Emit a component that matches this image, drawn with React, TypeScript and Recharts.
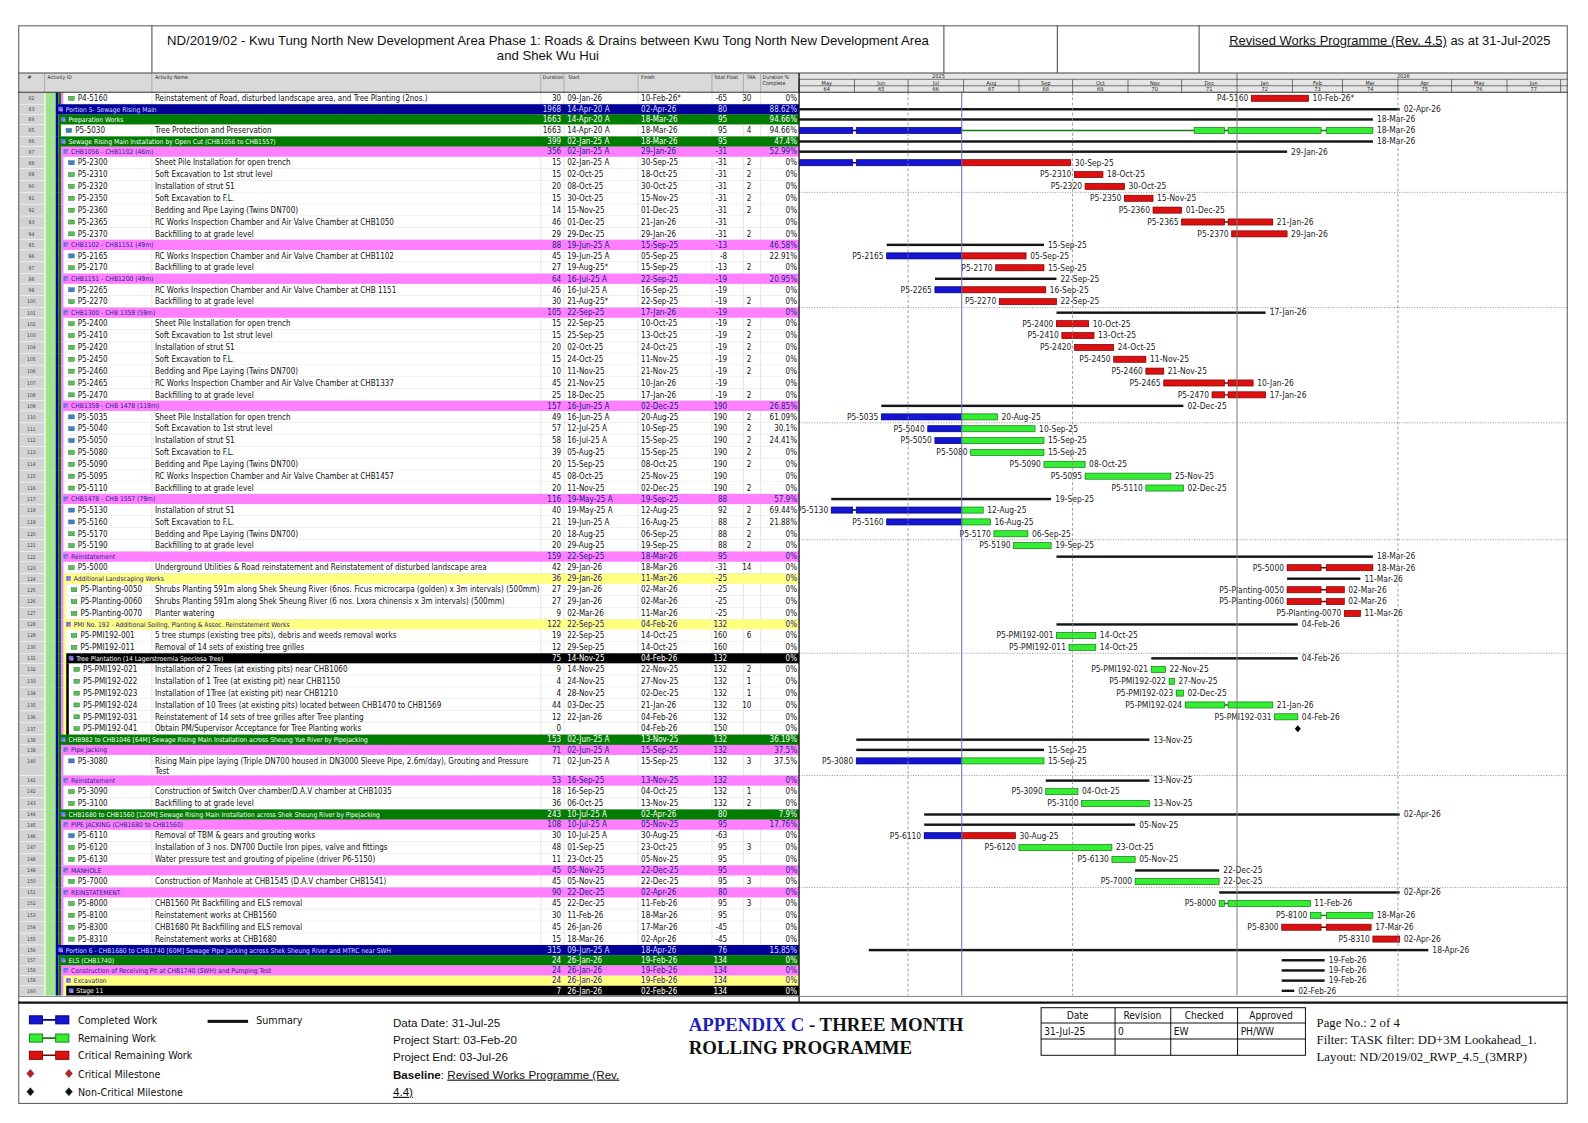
import React from 'react';
import { ComposedChart, Bar, XAxis, YAxis, ReferenceLine } from 'recharts';

// ---------- programme data (read from the printed P6 layout) ----------
const rowNumbers = [
  82, 83, 84, 85, 86, 87, 88, 89, 90, 91, 92, 93, 94, 95, 96, 97, 98, 99, 100, 101,
  102, 103, 104, 105, 106, 107, 108, 109, 110, 111, 112, 113, 114, 115, 116, 117, 118, 119, 120, 121,
  122, 123, 124, 125, 126, 127, 128, 129, 130, 131, 132, 133, 134, 135, 136, 137, 138, 139, 140, 141,
  142, 143, 144, 145, 146, 147, 148, 149, 150, 151, 152, 153, 154, 155, 156, 157, 158, 159, 160,
];

// 0 = task, -1 = milestone, 1..5 = WBS band level
const rowLevels = [
  0, 1, 2, 0, 2, 3, 0, 0, 0, 0, 0, 0, 0, 3, 0, 0, 3, 0, 0, 3,
  0, 0, 0, 0, 0, 0, 0, 3, 0, 0, 0, 0, 0, 0, 0, 3, 0, 0, 0, 0,
  3, 0, 4, 0, 0, 0, 4, 0, 0, 5, 0, 0, 0, 0, 0, -1, 2, 3, 0, 3,
  0, 0, 2, 3, 0, 0, 0, 3, 0, 3, 0, 0, 0, 0, 1, 2, 3, 4, 5,
];

const activityIds = [
  'P4-5160', '', '', 'P5-5030', '', '', 'P5-2300', 'P5-2310', 'P5-2320', 'P5-2350', 'P5-2360', 'P5-2365', 'P5-2370', '', 'P5-2165', 'P5-2170', '', 'P5-2265', 'P5-2270', '',
  'P5-2400', 'P5-2410', 'P5-2420', 'P5-2450', 'P5-2460', 'P5-2465', 'P5-2470', '', 'P5-5035', 'P5-5040', 'P5-5050', 'P5-5080', 'P5-5090', 'P5-5095', 'P5-5110', '', 'P5-5130', 'P5-5160', 'P5-5170', 'P5-5190',
  '', 'P5-5000', '', 'P5-Planting-0050', 'P5-Planting-0060', 'P5-Planting-0070', '', 'P5-PMI192-001', 'P5-PMI192-011', '', 'P5-PMI192-021', 'P5-PMI192-022', 'P5-PMI192-023', 'P5-PMI192-024', 'P5-PMI192-031', 'P5-PMI192-041', '', '', 'P5-3080', '',
  'P5-3090', 'P5-3100', '', '', 'P5-6110', 'P5-6120', 'P5-6130', '', 'P5-7000', '', 'P5-8000', 'P5-8100', 'P5-8300', 'P5-8310', '', '', '', '', '',
];

const activityNames = [
  'Reinstatement of Road, disturbed landscape area, and Tree Planting (2nos.)',
  'Portion 5- Sewage Rising Main',
  'Preparation Works',
  'Tree Protection and Preservation',
  'Sewage Rising Main Installation by Open Cut (CHB1056 to CHB1557)',
  'CHB1056 - CHB1102 (46m)',
  'Sheet Pile Installation for open trench',
  'Soft Excavation to 1st strut level',
  'Installation of strut S1',
  'Soft Excavation to F.L.',
  'Bedding and Pipe Laying (Twins DN700)',
  'RC Works Inspection Chamber and Air Valve Chamber at CHB1050',
  'Backfilling to at grade level',
  'CHB1102 - CHB1151 (49m)',
  'RC Works Inspection Chamber and Air Valve Chamber at CHB1102',
  'Backfilling to at grade level',
  'CHB1151 - CHB1200 (49m)',
  'RC Works Inspection Chamber and Air Valve Chamber at CHB 1151',
  'Backfilling to at grade level',
  'CHB1300 - CHB 1359 (59m)',
  'Sheet Pile Installation for open trench',
  'Soft Excavation to 1st strut level',
  'Installation of strut S1',
  'Soft Excavation to F.L.',
  'Bedding and Pipe Laying (Twins DN700)',
  'RC Works Inspection Chamber and Air Valve Chamber at CHB1337',
  'Backfilling to at grade level',
  'CHB1359 - CHB 1478 (119m)',
  'Sheet Pile Installation for open trench',
  'Soft Excavation to 1st strut level',
  'Installation of strut S1',
  'Soft Excavation to F.L.',
  'Bedding and Pipe Laying (Twins DN700)',
  'RC Works Inspection Chamber and Air Valve Chamber at CHB1457',
  'Backfilling to at grade level',
  'CHB1478 - CHB 1557 (79m)',
  'Installation of strut S1',
  'Soft Excavation to F.L.',
  'Bedding and Pipe Laying (Twins DN700)',
  'Backfilling to at grade level',
  'Reinstatement',
  'Underground Utilities & Road reinstatement and Reinstatement of disturbed landscape area',
  'Additional Landscaping Works',
  'Shrubs Planting 591m along Shek Sheung River (6nos. Ficus microcarpa (golden) x 3m intervals) (500mm)',
  'Shrubs Planting 591m along Shek Sheung River (6 nos. Lxora chinensis x 3m intervals) (500mm)',
  'Planter watering',
  'PMI No. 192 - Additional Soiling, Planting & Assoc. Reinstatement Works',
  '5 tree stumps (existing tree pits), debris and weeds removal works',
  'Removal of 14 sets of existing tree grilles',
  'Tree Plantation (14 Lagerstroemia Speciosa Tree)',
  'Installation of 2 Trees (at existing pits) near CHB1060',
  'Installation of 1 Tree (at existing pit) near CHB1150',
  'Installation of 1Tree (at existing pit) near CHB1210',
  'Installation of 10 Trees (at existing pits) located between CHB1470 to CHB1569',
  'Reinstatement of 14 sets of tree grilles after Tree planting',
  'Obtain PM/Supervisor Acceptance for Tree Planting works',
  'CHB982 to CHB1046 [64M] Sewage Rising Main Installation across Sheung Yue River by Pipejacking',
  'Pipe Jacking',
  'Rising Main pipe laying (Triple DN700 housed in DN3000 Sleeve Pipe, 2.6m/day), Grouting and Pressure\nTest',
  'Reinstatement',
  'Construction of Switch Over chamber/D.A.V chamber at CHB1035',
  'Backfilling to at grade level',
  'CHB1680 to CHB1560 [120M] Sewage Rising Main Installation across Shek Sheung River by Pipejacking',
  'PIPE JACKING (CHB1680 to CHB1560)',
  'Removal of TBM & gears and grouting works',
  'Installation of 3 nos. DN700 Ductile Iron pipes, valve and fittings',
  'Water pressure test and grouting of pipeline (driver P6-5150)',
  'MANHOLE',
  'Construction of Manhole at CHB1545 (D.A.V chamber CHB1541)',
  'REINSTATEMENT',
  'CHB1560 Pit Backfilling and ELS removal',
  'Reinstatement works at CHB1560',
  'CHB1680 Pit Backfilling and ELS removal',
  'Reinstatement works at CHB1680',
  'Portion 6 - CHB1680 to CHB1740 [60M] Sewage Pipe Jacking across Shek Sheung River and MTRC near SWH',
  'ELS (CHB1740)',
  'Construction of Receiving Pit at CHB1740 (SWH) and Pumping Test',
  'Excavation',
  'Stage 11',
];

const durations = [
  30, 1968, 1663, 1663, 399, 356, 15, 15, 20, 15, 14, 46, 29, 88, 45, 27, 64, 46, 30, 105,
  15, 15, 20, 15, 10, 45, 25, 157, 49, 57, 58, 39, 20, 45, 20, 116, 40, 21, 20, 20,
  159, 42, 36, 27, 27, 9, 122, 19, 12, 75, 9, 4, 4, 44, 12, 0, 153, 71, 71, 53,
  18, 36, 243, 108, 30, 48, 11, 45, 45, 90, 45, 30, 45, 15, 315, 24, 24, 24, 7,
];

const startDates = [
  '09-Jan-26', '14-Apr-20 A', '14-Apr-20 A', '14-Apr-20 A', '02-Jan-25 A', '02-Jan-25 A', '02-Jan-25 A', '02-Oct-25', '08-Oct-25', '30-Oct-25',
  '15-Nov-25', '01-Dec-25', '29-Dec-25', '19-Jun-25 A', '19-Jun-25 A', '19-Aug-25*', '16-Jul-25 A', '16-Jul-25 A', '21-Aug-25*', '22-Sep-25',
  '22-Sep-25', '25-Sep-25', '02-Oct-25', '24-Oct-25', '11-Nov-25', '21-Nov-25', '18-Dec-25', '16-Jun-25 A', '16-Jun-25 A', '12-Jul-25 A',
  '16-Jul-25 A', '05-Aug-25', '15-Sep-25', '08-Oct-25', '11-Nov-25', '19-May-25 A', '19-May-25 A', '19-Jun-25 A', '18-Aug-25', '29-Aug-25',
  '22-Sep-25', '29-Jan-26', '29-Jan-26', '29-Jan-26', '29-Jan-26', '02-Mar-26', '22-Sep-25', '22-Sep-25', '29-Sep-25', '14-Nov-25',
  '14-Nov-25', '24-Nov-25', '28-Nov-25', '03-Dec-25', '22-Jan-26', '', '02-Jun-25 A', '02-Jun-25 A', '02-Jun-25 A', '16-Sep-25',
  '16-Sep-25', '06-Oct-25', '10-Jul-25 A', '10-Jul-25 A', '10-Jul-25 A', '01-Sep-25', '23-Oct-25', '05-Nov-25', '05-Nov-25', '22-Dec-25',
  '22-Dec-25', '11-Feb-26', '26-Jan-26', '18-Mar-26', '09-Jun-25 A', '26-Jan-26', '26-Jan-26', '26-Jan-26', '26-Jan-26',
];

const finishDates = [
  '10-Feb-26*', '02-Apr-26', '18-Mar-26', '18-Mar-26', '18-Mar-26', '29-Jan-26', '30-Sep-25', '18-Oct-25', '30-Oct-25', '15-Nov-25',
  '01-Dec-25', '21-Jan-26', '29-Jan-26', '15-Sep-25', '05-Sep-25', '15-Sep-25', '22-Sep-25', '16-Sep-25', '22-Sep-25', '17-Jan-26',
  '10-Oct-25', '13-Oct-25', '24-Oct-25', '11-Nov-25', '21-Nov-25', '10-Jan-26', '17-Jan-26', '02-Dec-25', '20-Aug-25', '10-Sep-25',
  '15-Sep-25', '15-Sep-25', '08-Oct-25', '25-Nov-25', '02-Dec-25', '19-Sep-25', '12-Aug-25', '16-Aug-25', '06-Sep-25', '19-Sep-25',
  '18-Mar-26', '18-Mar-26', '11-Mar-26', '02-Mar-26', '02-Mar-26', '11-Mar-26', '04-Feb-26', '14-Oct-25', '14-Oct-25', '04-Feb-26',
  '22-Nov-25', '27-Nov-25', '02-Dec-25', '21-Jan-26', '04-Feb-26', '04-Feb-26', '13-Nov-25', '15-Sep-25', '15-Sep-25', '13-Nov-25',
  '04-Oct-25', '13-Nov-25', '02-Apr-26', '05-Nov-25', '30-Aug-25', '23-Oct-25', '05-Nov-25', '22-Dec-25', '22-Dec-25', '02-Apr-26',
  '11-Feb-26', '18-Mar-26', '17-Mar-26', '02-Apr-26', '18-Apr-26', '19-Feb-26', '19-Feb-26', '19-Feb-26', '02-Feb-26',
];

const totalFloats = [
  -65, 80, 95, 95, 95, -31, -31, -31, -31, -31, -31, -31, -31, -13, -8, -13, -19, -19, -19, -19,
  -19, -19, -19, -19, -19, -19, -19, 190, 190, 190, 190, 190, 190, 190, 190, 88, 92, 88, 88, 88,
  95, -31, -25, -25, -25, -25, 132, 160, 160, 132, 132, 132, 132, 132, 132, 150, 132, 132, 132, 132,
  132, 132, 80, 95, -63, 95, 95, 95, 95, 80, 95, 95, -45, -45, 76, 134, 134, 134, 134,
];

const tras = [
  30, null, null, 4, null, null, 2, 2, 2, 2, 2, null, 2, null, null, 2, null, null, 2, null,
  2, 2, 2, 2, 2, null, 2, null, 2, 2, 2, 2, 2, null, 2, null, 2, 2, 2, 2,
  null, 14, null, null, null, null, null, 6, null, null, 2, 1, 1, 10, null, null, null, null, 3, null,
  1, 2, null, null, null, 3, null, null, 3, null, 3, null, null, null, null, null, null, null, null,
];

const pctComplete = [
  0, 88.62, 94.66, 94.66, 47.4, 52.99, 0, 0, 0, 0, 0, 0, 0, 46.58, 22.91, 0, 20.95, 0, 0, 0,
  0, 0, 0, 0, 0, 0, 0, 26.85, 61.09, 30.1, 24.41, 0, 0, 0, 0, 57.9, 69.44, 21.88, 0, 0,
  0, 0, 0, 0, 0, 0, 0, 0, 0, 0, 0, 0, 0, 0, 0, 0, 36.19, 37.5, 37.5, 0,
  0, 0, 7.9, 17.76, 0, 0, 0, 0, 0, 0, 0, 0, 0, 0, 15.85, 0, 0, 0, 0,
];

const dataDate = '31-Jul-25';
const holidays = [
  ['31-May-25', '02-Jun-25'],
  ['25-Dec-25', '27-Dec-25'],
  ['17-Feb-26', '20-Feb-26'],
];
const resumeIds = ['P5-5030'];
const resumeDates = ['08-Dec-25'];

const timeDomain = ['01-May-25', '05-Jul-26'];
const monthStarts = [
  '01-May-25', '01-Jun-25', '01-Jul-25', '01-Aug-25', '01-Sep-25', '01-Oct-25', '01-Nov-25',
  '01-Dec-25', '01-Jan-26', '01-Feb-26', '01-Mar-26', '01-Apr-26', '01-May-26', '01-Jun-26', '01-Jul-26',
];
const monthLabels = ['May', 'Jun', 'Jul', 'Aug', 'Sep', 'Oct', 'Nov', 'Dec', 'Jan', 'Feb', 'Mar', 'Apr', 'May', 'Jun'];
const monthNumbers = [64, 65, 66, 67, 68, 69, 70, 71, 72, 73, 74, 75, 76, 77];
const yearLabels = ['2025', '2026'];
const yearLabelAt = ['18-Jul-25', '04-Apr-26'];
const quarterLines = ['01-Jul-25', '01-Oct-25', '01-Apr-26'];
const yearLine = '01-Jan-26';
const bandLineRows = [90, 100, 110, 120, 130, 140, 150];

// ---------- helpers ----------
const MONTHS = ['Jan', 'Feb', 'Mar', 'Apr', 'May', 'Jun', 'Jul', 'Aug', 'Sep', 'Oct', 'Nov', 'Dec'];
const day = (s: string) => {
  const [d, m, y] = s.replace(/[\s*A]+$/g, '').split('-');
  return Date.UTC(2000 + parseInt(y, 10), MONTHS.indexOf(m), parseInt(d, 10)) / 86400000;
};

const NARROW = "'Liberation Sans Narrow','Arial Narrow','DejaVu Sans Condensed',sans-serif";
const SANS = "'Liberation Sans',Arial,sans-serif";
const SERIF = "'Liberation Serif','Times New Roman',serif";

// layout is drawn on a 1568-wide sheet, then scaled to the 1588 window
const SHEET_W = 1568;
const SHEET_H = 1109;
const SCALE = 1588 / SHEET_W;

// row heights in P6: WBS bands are shorter than activity rows
const BAND_H = 10.05;
const TASK_H = 11.71;
const WRAP_H = 20.3;

const LEVEL_FILL = ['', '#000099', '#007c00', '#ff80ff', '#ffff80', '#000000'];
const LEVEL_TEXT = ['', '#dcdcff', '#ffffff', '#20208a', '#20208a', '#ffffff'];
const ROOT_FILL = '#9fe38f';
const stripX = (l: number) => 55 + (l - 1) * 2.6;

// build the row table
type Row = any;
const rows: Row[] = [];
let parentLevel = 3;
let acc = 0;
rowNumbers.forEach((no, i) => {
  const lvl = rowLevels[i];
  const isBand = lvl > 0;
  const depth = isBand ? lvl - 1 : parentLevel;
  if (isBand) parentLevel = lvl;
  const st = startDates[i];
  const fi = finishDates[i];
  const f = day(fi);
  const s = st ? day(st) : f;
  const lines = activityNames[i].split('\n');
  const ri = resumeIds.indexOf(activityIds[i]);
  const h = isBand ? BAND_H : lines.length > 1 ? WRAP_H : TASK_H;
  const yc = acc + (lines.length > 1 ? TASK_H / 2 : h / 2);
  rows.push({
    no, lvl, depth, id: activityIds[i], lines, top: acc, h, yc,
    dur: durations[i], start: st, finish: fi, tf: totalFloats[i], tra: tras[i], pct: pctComplete[i],
    span: [s, f], actual: st.includes(' A'), resume: ri >= 0 ? day(resumeDates[ri]) : null,
  });
  acc += h;
});
const TOTAL_H = acc;
const rowTicks = rows.map((r) => r.yc);

// page geometry
const CL = 18, CT = 72, CW = 1530, YW = 771, XH = 19.2;
const PLOT_H = TOTAL_H;
const CH = XH + PLOT_H;
const UNIT = PLOT_H / TOTAL_H;
const GX = CL + YW; // table / gantt border
const PLOT_W = CW - YW;
const D0 = day(timeDomain[0]);
const D1 = day(timeDomain[1]);
const PPD = PLOT_W / (D1 - D0);
const DD = day(dataDate);
const HOL = holidays.map(([a, b]) => [day(a), day(b)]);

const monthTicks = monthStarts.map(day);
const yearIdx = monthStarts.indexOf(yearLine);

// ---------- table rows drawn as Y-axis ticks ----------
const COLS = { name: 153, durR: 554, start: 560, finish: 633, tfR: 718, traR: 742, pctR: 787 };
const SEPS = [150, 534, 557, 630, 703, 734, 751];
const TXT = 7.9;

const RowTick = (p: any) => {
  const r = rows[p.index] && rows[p.index].yc === p.payload?.value ? rows[p.index] : rows.find((q) => q.yc === p.payload?.value);
  if (!r) return null;
  const X = (v: number) => v - CL;
  const cy = p.y;
  const top = cy - (r.yc - r.top) * UNIT;
  const h = r.h * UNIT;
  const isBand = r.lvl > 0;
  const start = stripX(r.depth + 1);
  const fg = isBand ? LEVEL_TEXT[r.lvl] : '#111';
  const ty = cy + 2.7;
  const strips = [];
  for (let l = 1; l <= r.depth; l++) {
    strips.push(<rect key={'s' + l} x={X(stripX(l))} y={top} width={2.6} height={h + 0.3} fill={LEVEL_FILL[l]} />);
  }
  return (
    <g fontFamily={NARROW}>
      <rect x={X(18)} y={top} width={26} height={h} fill="#d3d3d3" stroke="#f2f2f2" strokeWidth={0.6} />
      <text x={X(31)} y={cy + 1.8} fontSize={5} textAnchor="middle" fill="#444">{r.no}</text>
      <rect x={X(45)} y={top} width={stripX(1) - 45} height={h + 0.3} fill={ROOT_FILL} />
      {strips}
      <rect x={X(start)} y={top} width={GX - start} height={h + 0.2} fill={isBand ? LEVEL_FILL[r.lvl] : '#ffffff'} />
      {!isBand && SEPS.map((s) => (
        <line key={s} x1={X(s)} x2={X(s)} y1={top} y2={top + h} stroke="#d2d2d2" strokeWidth={0.6} />
      ))}
      {!isBand && (
        <line x1={X(start)} x2={X(GX)} y1={top + h} y2={top + h} stroke="#d0d0d0" strokeWidth={0.6} />
      )}
      {isBand ? (
        <>
          <rect x={X(start + 2.5)} y={cy - 2.5} width={4.5} height={4.5} fill="#5a78e8" />
          <rect x={X(start + 4.5)} y={cy - 0.5} width={2.5} height={2.5} fill="#e070e0" />
          <text x={X(start + 10)} y={cy + 2.4} fontSize={6.6} fill={fg}>{r.lines[0]}</text>
        </>
      ) : (
        <>
          <rect x={X(start + 5)} y={cy - 2} width={5.5} height={4} fill={r.actual ? '#3b7dd8' : '#52c452'} stroke="#2a5a2a" strokeWidth={0.4} />
          <text x={X(start + 14)} y={ty} fontSize={TXT} fill={fg}>{r.id}</text>
          {r.lines.map((t: string, j: number) => (
            <text key={j} x={X(COLS.name)} y={ty + j * 10.2} fontSize={TXT} fill={fg}>{t}</text>
          ))}
        </>
      )}
      <g fontSize={TXT} fill={fg}>
        <text x={X(COLS.durR)} y={ty} textAnchor="end">{r.dur}</text>
        <text x={X(COLS.start)} y={ty}>{r.start}</text>
        <text x={X(COLS.finish)} y={ty}>{r.finish}</text>
        <text x={X(COLS.tfR)} y={ty} textAnchor="end">{r.tf}</text>
        {r.tra != null && <text x={X(COLS.traR)} y={ty} textAnchor="end">{r.tra}</text>}
        <text x={X(COLS.pctR)} y={ty} textAnchor="end">{r.pct + '%'}</text>
      </g>
    </g>
  );
};

// ---------- timescale header drawn as X-axis ticks ----------
const MonthTick = (p: any) => {
  const i = p.index;
  const x = p.x;
  const w = i < monthLabels.length ? (monthTicks[i + 1] - monthTicks[i]) * PPD : 0;
  return (
    <g fontFamily={NARROW} fontSize={5.5} fill="#222">
      <line x1={x} x2={x} y1={i === yearIdx ? 0 : 6.3} y2={XH} stroke="#444" strokeWidth={0.7} />
      {monthLabels[i] && <text x={x + w / 2} y={12} textAnchor="middle">{monthLabels[i]}</text>}
      {monthNumbers[i] != null && <text x={x + w / 2} y={18.1} textAnchor="middle">{monthNumbers[i]}</text>}
      {i === 0 && (
        <text x={x + (day(yearLabelAt[0]) - monthTicks[0]) * PPD} y={5.2} textAnchor="middle">{yearLabels[0]}</text>
      )}
      {i === yearIdx && (
        <text x={x + (day(yearLabelAt[1]) - monthTicks[yearIdx]) * PPD} y={5.2} textAnchor="middle">{yearLabels[1]}</text>
      )}
    </g>
  );
};

// ---------- gantt bar shape ----------
const splitByHolidays = (a: number, b: number) => {
  let segs = [[a, b]];
  HOL.forEach(([h0, h1]) => {
    segs = segs.flatMap(([s, e]) =>
      h1 <= s || h0 >= e ? [[s, e]] : [[s, h0], [h1, e]].filter(([u, v]) => v > u)
    );
  });
  return segs;
};

const BLUE = ['#1414d4', '#00006a'];
const GREEN = ['#33ee33', '#137a13'];
const RED = ['#dc1010', '#780000'];

const GanttShape = (p: any) => {
  const r = p.payload;
  if (!r || !r.span) return null;
  const { x, y, width, height } = p;
  const [s, e] = r.span;
  const px = (d: number) => (e === s ? x : x + (width * (d - s)) / (e - s));
  const cy = y + height / 2;
  const label = { fontFamily: NARROW, fontSize: 8.3, fill: '#222' };

  if (r.lvl > 0) {
    return (
      <g>
        <rect x={px(s)} y={cy - 1.2} width={px(e) - px(s)} height={2.4} fill="#151515" />
        <text x={px(e) + 4} y={cy + 2.8} {...label}>{r.finish}</text>
      </g>
    );
  }
  if (r.lvl < 0) {
    const mx = px(e);
    return <polygon points={`${mx},${cy - 3.5} ${mx + 3},${cy} ${mx},${cy + 3.5} ${mx - 3},${cy}`} fill="#000" />;
  }

  const parts: any[] = [];
  const drawBar = (a: number, b: number, col: string[], k: string) => {
    if (b <= a) return;
    parts.push(<line key={k + 'n'} x1={px(a)} x2={px(b)} y1={cy} y2={cy} stroke={col[1]} strokeWidth={1.4} />);
    splitByHolidays(a, b).forEach(([u, v], j) =>
      parts.push(
        <rect key={k + j} x={px(u)} y={cy - 3} width={px(v) - px(u)} height={6} fill={col[0]} stroke={col[1]} strokeWidth={0.7} />
      )
    );
  };
  const remCol = r.tf <= 0 ? RED : GREEN;
  if (r.actual) drawBar(s, Math.min(DD, e), BLUE, 'a');
  const remFrom = r.actual ? Math.max(DD, s) : s;
  if (r.resume != null) {
    parts.push(<line key="gap" x1={px(remFrom)} x2={px(r.resume)} y1={cy} y2={cy} stroke={remCol[1]} strokeWidth={1.4} />);
    drawBar(r.resume, e, remCol, 'r');
  } else {
    drawBar(remFrom, e, remCol, 'r');
  }
  const idX = px(s) - 3;
  return (
    <g>
      {parts}
      {idX > YW && <text x={idX} y={cy + 2.8} textAnchor="end" {...label}>{r.id}</text>}
      <text x={px(e) + 4} y={cy + 2.8} {...label}>{r.finish}</text>
    </g>
  );
};

// ---------- static page furniture ----------
const Swatch = ({ y, col }: { y: number; col: string[] }) => (
  <g>
    <line x1={40} x2={56} y1={y} y2={y} stroke={col[1]} strokeWidth={1.6} />
    <rect x={29} y={y - 4} width={13} height={8} fill={col[0]} stroke={col[1]} strokeWidth={0.9} />
    <rect x={55} y={y - 4} width={13} height={8} fill={col[0]} stroke={col[1]} strokeWidth={0.9} />
  </g>
);
const Diamond = ({ x, y, fill }: { x: number; y: number; fill: string }) => (
  <polygon points={`${x},${y - 4} ${x + 3.5},${y} ${x},${y + 4} ${x - 3.5},${y}`} fill={fill} stroke="#222" strokeWidth={0.5} />
);

const tableHeads = [
  { x: 29, t: ['#'], a: 'middle' },
  { x: 47, t: ['Activity ID'] },
  { x: 153, t: ['Activity Name'] },
  { x: 536, t: ['Duration'] },
  { x: 561, t: ['Start'] },
  { x: 633, t: ['Finish'] },
  { x: 705, t: ['Total Float'] },
  { x: 737, t: ['TRA'] },
  { x: 753, t: ['Duration %', 'Complete'] },
];

const rowBottom = (no: number) => {
  const r = rows.find((q) => q.no === no);
  return r.top + r.h;
};

export default function App() {
  return (
    <div
      style={{
        position: 'absolute', left: 0, top: 0, width: SHEET_W, height: SHEET_H, background: '#fff',
        overflow: 'hidden', transform: `scale(${SCALE})`, transformOrigin: '0 0',
      }}
    >
      <svg width={SHEET_W} height={SHEET_H} style={{ position: 'absolute', left: 0, top: 0 }}>
        <rect x={18} y={72} width={GX - 18} height={XH} fill="#d9d9d9" />
        <rect x={GX} y={72} width={1548 - GX} height={XH} fill="#e6e6e6" />
      </svg>

      <div style={{ position: 'absolute', left: CL, top: CT }}>
        <ComposedChart
          layout="vertical"
          width={CW}
          height={CH}
          data={rows}
          margin={{ top: 0, right: 0, bottom: 0, left: 0 }}
          barCategoryGap={0}
        >
          <XAxis
            type="number"
            domain={[D0, D1]}
            allowDataOverflow
            orientation="top"
            height={XH}
            ticks={monthTicks}
            interval={0}
            tick={<MonthTick />}
            tickLine={false}
            axisLine={false}
          />
          <YAxis
            type="number"
            dataKey="yc"
            domain={[0, TOTAL_H]}
            allowDataOverflow
            ticks={rowTicks}
            interval={0}
            width={YW}
            tick={<RowTick />}
            tickLine={false}
            axisLine={false}
          />
          {quarterLines.map((d) => (
            <ReferenceLine key={d} x={day(d)} stroke="#8c8c8c" strokeDasharray="3 2" strokeWidth={0.8} />
          ))}
          <ReferenceLine x={day(yearLine)} stroke="#7c7c7c" strokeWidth={1} />
          <ReferenceLine x={DD} stroke="#6c6cb8" strokeWidth={1} />
          {bandLineRows.map((no) => (
            <ReferenceLine key={no} y={rowBottom(no)} stroke="#7a7a7a" strokeDasharray="1 1.5" strokeWidth={0.8} />
          ))}
          <Bar dataKey="span" barSize={6} isAnimationActive={false} shape={(props: any) => <GanttShape {...props} />} />
        </ComposedChart>
      </div>

      <svg width={SHEET_W} height={SHEET_H} style={{ position: 'absolute', left: 0, top: 0, pointerEvents: 'none' }}>
        {/* frame and title block */}
        <rect x={18.5} y={25.5} width={1529} height={1064} fill="none" stroke="#555" strokeWidth={1} />
        <line x1={18} x2={1548} y1={72} y2={72} stroke="#444" strokeWidth={1} />
        {[150, 932, 1044, 1184].map((x) => (
          <line key={x} x1={x} x2={x} y1={25} y2={72} stroke="#444" strokeWidth={1} />
        ))}
        <g fontFamily={SANS} fontSize={13} fill="#111">
          <text x={541} y={44} textAnchor="middle">
            ND/2019/02 - Kwu Tung North New Development Area Phase 1: Roads &amp; Drains between Kwu Tong North New Development Area
          </text>
          <text x={541} y={59} textAnchor="middle">and Shek Wu Hui</text>
          <text x={1531} y={44} textAnchor="end" fontSize={12.8}>
            <tspan style={{ textDecoration: 'underline' }}>Revised Works Programme (Rev. 4.5)</tspan>
            <tspan> as at 31-Jul-2025</tspan>
          </text>
        </g>

        {/* column headers */}
        <g fontFamily={NARROW} fontSize={5.2} fill="#222">
          {tableHeads.map((h) =>
            h.t.map((t, j) => (
              <text key={h.x + t} x={h.x} y={78 + j * 5.5} textAnchor={(h.a as any) || 'start'}>{t}</text>
            ))
          )}
        </g>
        {[44, ...SEPS].map((x) => (
          <line key={x} x1={x} x2={x} y1={72} y2={CT + XH} stroke="#9a9a9a" strokeWidth={0.7} />
        ))}
        <line x1={GX} x2={1548} y1={78.3} y2={78.3} stroke="#444" strokeWidth={0.7} />
        <line x1={GX} x2={1548} y1={84.7} y2={84.7} stroke="#444" strokeWidth={0.7} />
        <line x1={18} x2={1548} y1={CT + XH} y2={CT + XH} stroke="#333" strokeWidth={1} />
        <line x1={GX} x2={GX} y1={72} y2={990} stroke="#111" strokeWidth={1.3} />
        <line x1={18} x2={1548} y1={CT + CH + 0.5} y2={CT + CH + 0.5} stroke="#666" strokeWidth={0.8} />

        {/* footer */}
        <line x1={18} x2={1548} y1={990} y2={990} stroke="#111" strokeWidth={2} />
        <Swatch y={1007} col={BLUE} />
        <Swatch y={1025} col={GREEN} />
        <Swatch y={1042} col={RED} />
        <Diamond x={30} y={1060} fill="#c02020" />
        <Diamond x={68} y={1060} fill="#c02020" />
        <Diamond x={30} y={1078} fill="#111" />
        <Diamond x={68} y={1078} fill="#111" />
        <rect x={205} y={1007} width={40} height={3} fill="#111" />
        <g fontFamily={NARROW} fontSize={10.5} fill="#111">
          <text x={77} y={1011}>Completed Work</text>
          <text x={77} y={1029}>Remaining Work</text>
          <text x={77} y={1046}>Critical Remaining Work</text>
          <text x={77} y={1064}>Critical Milestone</text>
          <text x={77} y={1082}>Non-Critical Milestone</text>
          <text x={253} y={1011}>Summary</text>
        </g>
        <g fontFamily={SANS} fontSize={11.5} fill="#111">
          <text x={388} y={1014}>Data Date: 31-Jul-25</text>
          <text x={388} y={1031}>Project Start: 03-Feb-20</text>
          <text x={388} y={1048}>Project End: 03-Jul-26</text>
          <text x={388} y={1065}>
            <tspan fontWeight="bold">Baseline</tspan>
            <tspan>: </tspan>
            <tspan style={{ textDecoration: 'underline' }}>Revised Works Programme (Rev.</tspan>
          </text>
          <text x={388} y={1082} style={{ textDecoration: 'underline' }}>4.4)</text>
        </g>
        <g fontFamily={SERIF} fontWeight="bold" fontSize={18.6} fill="#111">
          <text x={680} y={1018}>
            <tspan fill="#1f1fb8">APPENDIX C</tspan>
            <tspan> - THREE MONTH</tspan>
          </text>
          <text x={680} y={1041}>ROLLING PROGRAMME</text>
        </g>
        <g stroke="#111" strokeWidth={1} fill="none">
          <rect x={1028} y={995} width={261} height={47} />
          <line x1={1028} x2={1289} y1={1010} y2={1010} />
          <line x1={1028} x2={1289} y1={1026} y2={1026} />
          {[1101, 1156, 1222].map((x) => (
            <line key={x} x1={x} x2={x} y1={995} y2={1042} />
          ))}
        </g>
        <g fontFamily={NARROW} fontSize={10} fill="#111">
          <text x={1064} y={1006} textAnchor="middle">Date</text>
          <text x={1128} y={1006} textAnchor="middle">Revision</text>
          <text x={1189} y={1006} textAnchor="middle">Checked</text>
          <text x={1255} y={1006} textAnchor="middle">Approved</text>
          <text x={1031} y={1022}>31-Jul-25</text>
          <text x={1104} y={1022}>0</text>
          <text x={1159} y={1022}>EW</text>
          <text x={1225} y={1022}>PH/WW</text>
        </g>
        <g fontFamily={SERIF} fontSize={12.6} fill="#111">
          <text x={1300} y={1014}>Page No.: 2 of 4</text>
          <text x={1300} y={1031}>Filter: TASK filter: DD+3M Lookahead_1.</text>
          <text x={1300} y={1048}>Layout: ND/2019/02_RWP_4.5_(3MRP)</text>
        </g>
      </svg>
    </div>
  );
}
